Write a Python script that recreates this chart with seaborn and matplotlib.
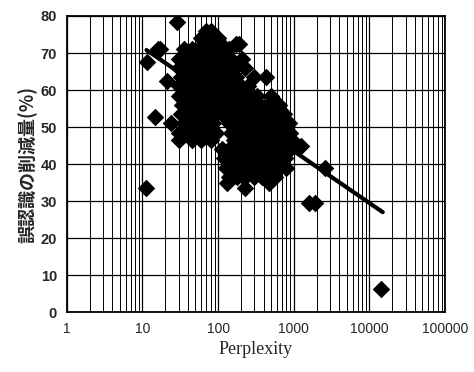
import numpy as np
import pandas as pd
import seaborn as sns
import matplotlib.pyplot as plt
from matplotlib.ticker import LogLocator, FuncFormatter, NullFormatter

# perplexity vs. error reduction (%)
rows = [
    # (reduction, [perplexity values on that row])
    (78.5, [29]),
    (76, [69, 80]),
    (74, [60, 72, 85, 100]),
    (72.5, [110, 170, 190]),
    (71, [16, 17, 35, 45, 55, 65, 80, 95, 115, 140]),
    (68.5, [30, 38, 48, 60, 72, 88, 105, 125, 150, 208]),
    (67.5, [11.6]),
    (66, [30, 40, 50, 62, 75, 90, 110, 135, 160, 230]),
    (63.5, [32, 42, 52, 64, 78, 95, 115, 140, 170, 300, 425]),
    (62.5, [21]),
    (61, [30, 40, 50, 62, 75, 92, 110, 135, 165, 200, 250]),
    (58.5, [30, 38, 48, 60, 72, 88, 105, 130, 160, 200, 260, 330, 500]),
    (56, [33, 42, 52, 64, 78, 95, 115, 140, 175, 220, 280, 360, 450, 630]),
    (53.5, [32, 40, 50, 62, 76, 92, 112, 140, 190, 240, 300, 380, 480, 600, 750]),
    (52.7, [14.8]),
    (51, [24, 35, 45, 55, 68, 85, 140, 170, 210, 260, 330, 420, 530, 680, 860]),
    (48.5, [30, 40, 50, 62, 78, 95, 150, 190, 240, 300, 380, 480, 600, 760, 900]),
    (46.5, [30, 45, 60, 80, 160, 200, 250, 320, 400, 500, 640, 800, 940]),
    (45, [1250]),
    (44, [113, 140, 175, 220, 280, 350, 440, 560, 700, 880]),
    (41.5, [120, 150, 190, 240, 300, 380, 480, 600, 760]),
    (39, [127, 160, 200, 250, 320, 400, 500, 630, 800, 2600]),
    (36.5, [140, 180, 230, 300, 380, 470, 560]),
    (35, [130, 470]),
    (33.5, [11.3, 230]),
    (29.5, [1600, 1900]),
    (6.2, [14400]),
]
perplexity = [x for y, xs in rows for x in xs]
reduction = [y for y, xs in rows for x in xs]

# regression line end points
fit_x = [11.3, 15000]
fit_y = [70.8, 27.0]

df = pd.DataFrame({"Perplexity": perplexity, "reduction": reduction})
fit = pd.DataFrame({"Perplexity": fit_x, "reduction": fit_y})

sns.set_style("white")
plt.rcParams['font.family'] = ['Liberation Sans', 'DejaVu Sans']

fig = plt.figure(figsize=(4.74, 3.72), dpi=100)
ax = fig.add_axes([0.141, 0.161, 0.798, 0.796])

ax.set_xscale("log")
ax.set_xlim(1, 100000)
ax.set_ylim(0, 80)

ax.xaxis.set_major_locator(LogLocator(base=10, numticks=10))
ax.xaxis.set_minor_locator(LogLocator(base=10, subs=np.arange(2, 10), numticks=20))
ax.xaxis.set_major_formatter(FuncFormatter(lambda v, p: "%d" % v))
ax.xaxis.set_minor_formatter(NullFormatter())
ax.set_yticks(np.arange(0, 81, 10))

ax.grid(True, which="major", axis="both", color="black", lw=0.9)
ax.grid(True, which="minor", axis="x", color="black", lw=0.7)
ax.set_axisbelow(True)

sns.scatterplot(data=df, x="Perplexity", y="reduction", marker="D", s=80,
                color="black", edgecolor="black", linewidth=0, ax=ax, zorder=3)
sns.lineplot(data=fit, x="Perplexity", y="reduction", color="black", lw=3,
             ax=ax, zorder=4)

for s in ax.spines.values():
    s.set_color("black")
    s.set_linewidth(1.3)

ax.tick_params(which="both", length=0, pad=7)
for lab in ax.get_yticklabels():
    lab.set_fontweight("bold")
    lab.set_fontsize(10.5)
for lab in ax.get_xticklabels():
    lab.set_fontsize(10)

ax.set_xlabel("Perplexity", family=["Liberation Serif"], fontsize=13, labelpad=4)
ax.set_ylabel("誤認識の削減量(%)", family=["Noto Sans CJK JP", "DejaVu Sans"],
              fontweight="bold", fontsize=13, labelpad=2)

fig.savefig("out.png", dpi=100)
